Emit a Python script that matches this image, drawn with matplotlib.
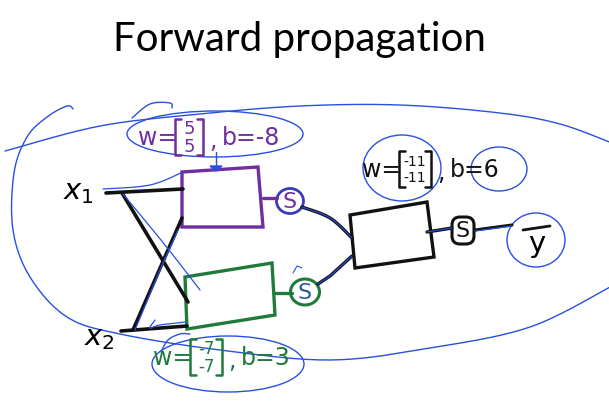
"""Forward propagation slide: hand-drawn two-layer network sketch."""

import numpy as np
import matplotlib

matplotlib.use("Agg")
import matplotlib.pyplot as plt
from matplotlib.patches import Ellipse, FancyBboxPatch, Polygon

# network parameters written on the slide
w_top = ["5", "5"]
b_top = "-8"
w_bottom = ["-7", "-7"]
b_bottom = "3"
w_out = ["-11", "-11"]
b_out = "6"
input_labels = [r"$x_1$", r"$x_2$"]
output_label = "y"
title = "Forward propagation"

PURPLE = "#6f2f9f"
GREEN = "#1f7a3c"
BLUE = "#2850e0"
BLACK = "#111111"


def smooth(points, n=20):
    """Catmull-Rom through the given stroke points."""
    p = np.asarray(points, dtype=float)
    p = np.vstack([p[0], p, p[-1]])
    out = []
    for i in range(1, len(p) - 2):
        p0, p1, p2, p3 = p[i - 1], p[i], p[i + 1], p[i + 2]
        t = np.linspace(0, 1, n)[:, None]
        out.append(0.5 * ((2 * p1) + (-p0 + p2) * t
                          + (2 * p0 - 5 * p1 + 4 * p2 - p3) * t ** 2
                          + (-p0 + 3 * p1 - 3 * p2 + p3) * t ** 3))
    return np.vstack(out)


def stroke(ax, points, color, lw, curved=False):
    p = smooth(points) if curved else np.asarray(points, dtype=float)
    ax.plot(p[:, 0], p[:, 1], color=color, lw=lw, solid_capstyle="round",
            solid_joinstyle="round")


def label(ax, x, y, w, b, color, size=17, small=13, gap=9, width=22):
    """w=[a; a], b=c written by hand."""
    ax.text(x, y, "w=", color=color, fontsize=size, va="center", ha="left")
    bx = x + 37
    top, bot = y - 19, y + 17
    stroke(ax, [(bx + 6, top), (bx, top), (bx, bot), (bx + 6, bot)], color, 1.8)
    ax.text(bx + 3 + width / 2, y - gap, w[0], color=color, fontsize=small,
            ha="center", va="center")
    ax.text(bx + 3 + width / 2, y + gap, w[1], color=color, fontsize=small,
            ha="center", va="center")
    ex = bx + width + 6
    stroke(ax, [(ex - 6, top), (ex, top), (ex, bot), (ex - 6, bot)], color, 1.8)
    ax.text(ex + 6, y + 3, ",", color=color, fontsize=size, va="center")
    ax.text(ex + 19, y, "b=" + b, color=color, fontsize=size, va="center")


fig = plt.figure(figsize=(6.09, 4.09), dpi=100)
ax = fig.add_axes([0, 0, 1, 1])
ax.set_xlim(0, 609)
ax.set_ylim(409, 0)
ax.axis("off")

ax.text(299, 40, title, fontsize=29, family="Lato", ha="center", va="center",
        color="black")

# big blue loop round the whole network
stroke(ax, [(5, 151), (100, 126), (200, 114), (300, 106), (400, 105),
            (500, 113), (560, 124), (612, 143)], BLUE, 1.0, curved=True)
stroke(ax, [(612, 286), (530, 327), (430, 348), (330, 360), (220, 350),
            (120, 334), (67, 317), (30, 277), (13, 230), (14, 173),
            (27, 137), (47, 117), (67, 106), (73, 109)], BLUE, 1.0, curved=True)

# input wires
stroke(ax, [(106, 193), (183, 189)], BLACK, 2.6)
stroke(ax, [(122, 193), (188, 302)], BLACK, 2.6)
stroke(ax, [(133, 330), (182, 218)], BLACK, 2.6)
stroke(ax, [(121, 331), (187, 326)], BLACK, 2.6)
ax.text(78, 192, input_labels[0], fontsize=21, ha="center", va="center")
ax.text(99, 338, input_labels[1], fontsize=21, ha="center", va="center")

# blue traces over the input wires
stroke(ax, [(103, 189), (150, 185), (183, 172)], BLUE, 0.9, curved=True)
stroke(ax, [(123, 194), (165, 245), (200, 290)], BLUE, 0.9, curved=True)
stroke(ax, [(135, 330), (160, 270), (178, 230)], BLUE, 0.9, curved=True)
stroke(ax, [(186, 322), (160, 325), (150, 328), (155, 320)], BLUE, 0.9, curved=True)

# top hidden unit (purple)
ax.add_patch(Polygon([(182, 172), (258, 167), (263, 227), (182, 227)],
                     closed=True, fill=False, ec=PURPLE, lw=2.4))
stroke(ax, [(263, 198), (277, 198)], PURPLE, 2.4)
ax.add_patch(Ellipse((290, 201), 27, 25, fill=False, ec="#3a3ac0", lw=2.0))
ax.text(290, 202, "S", color=PURPLE, fontsize=16, ha="center", va="center")

# bottom hidden unit (green)
ax.add_patch(Polygon([(185, 277), (272, 263), (275, 315), (187, 329)],
                     closed=True, fill=False, ec=GREEN, lw=2.4))
stroke(ax, [(275, 293), (292, 293)], GREEN, 2.4)
ax.add_patch(Ellipse((305, 292), 29, 26, fill=False, ec=GREEN, lw=2.2))
ax.text(305, 293, "S", color="#2a5a9a", fontsize=16, ha="center", va="center")
stroke(ax, [(293, 273), (297, 266), (302, 268)], BLUE, 0.8)

# hidden -> output wires
stroke(ax, [(302, 207), (330, 218), (352, 238)], BLACK, 2.4, curved=True)
stroke(ax, [(318, 284), (330, 276), (352, 256)], BLACK, 2.4)
stroke(ax, [(302, 207), (330, 218), (352, 238)], BLUE, 0.8, curved=True)
stroke(ax, [(318, 284), (330, 276), (352, 256)], BLUE, 0.8)

# output unit (black)
ax.add_patch(Polygon([(350, 215), (427, 202), (434, 257), (355, 268)],
                     closed=True, fill=False, ec=BLACK, lw=2.4))
stroke(ax, [(427, 232), (452, 228)], BLACK, 2.4)
stroke(ax, [(427, 232), (452, 228)], BLUE, 0.8)
ax.add_patch(FancyBboxPatch((452, 217), 22, 27, boxstyle="round,pad=0,rounding_size=8",
                            fill=False, ec=BLACK, lw=2.2))
ax.text(463, 231, "S", color=BLACK, fontsize=16, ha="center", va="center")
stroke(ax, [(475, 230), (512, 225)], BLACK, 2.2)
stroke(ax, [(475, 231), (512, 226)], BLUE, 0.9)
ax.text(537, 244, output_label, fontsize=21, ha="center", va="center")
stroke(ax, [(523, 230), (550, 226)], BLACK, 2.0)
ax.add_patch(Ellipse((536, 240), 58, 54, fill=False, ec=BLUE, lw=1.0))

# parameter labels with their blue rings
label(ax, 138, 138, w_top, b_top, PURPLE)
ax.add_patch(Ellipse((215, 134), 176, 46, fill=False, ec=BLUE, lw=1.0))
stroke(ax, [(132, 118), (150, 104), (170, 103), (172, 108)], BLUE, 1.0, curved=True)
stroke(ax, [(216, 152), (216, 166)], BLUE, 1.0)
ax.add_patch(Polygon([(210, 166), (222, 166), (216, 171)], closed=True,
                     fc=BLUE, ec=BLUE))

label(ax, 153, 358, w_bottom, b_bottom, GREEN, small=12, width=26)
ax.add_patch(Ellipse((228, 364), 152, 56, fill=False, ec=BLUE, lw=1.0))
stroke(ax, [(161, 352), (168, 340), (180, 334), (190, 334)], BLUE, 1.0, curved=True)

label(ax, 362, 170, w_out, b_out, BLACK, small=10, gap=8, width=26)
ax.add_patch(Ellipse((402, 168), 78, 66, fill=False, ec=BLUE, lw=1.0))
ax.add_patch(Ellipse((499, 169), 56, 44, fill=False, ec=BLUE, lw=1.0))

fig.savefig("out.png", dpi=100)
